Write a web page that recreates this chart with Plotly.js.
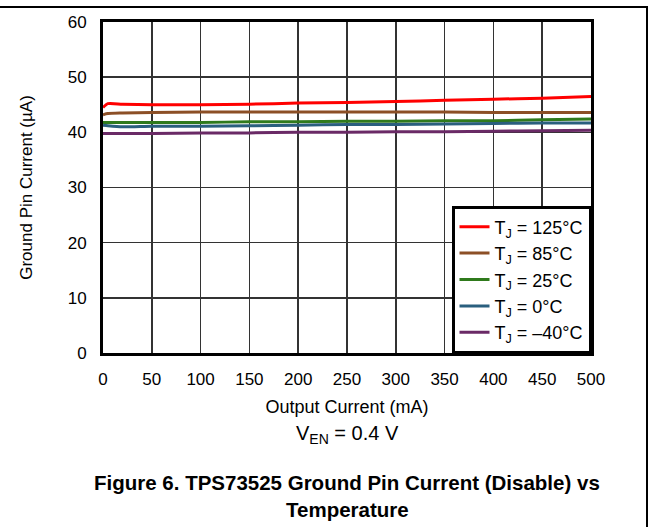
<!DOCTYPE html>
<html><head><meta charset="utf-8">
<script src="https://cdn.plot.ly/plotly-3.0.1.min.js"></script>
<style>
html,body{margin:0;padding:0;background:#fff;}
#wrap{position:relative;width:649px;height:527px;}
#plot{width:649px;height:527px;}
#frame{position:absolute;left:0;top:6px;width:646px;height:530px;border-top:2px solid #000;border-right:2px solid #000;pointer-events:none;}
</style></head>
<body>
<div id="wrap"><div id="plot"></div><div id="frame"></div></div>
<script>
const xCurrent = [0, 5, 20, 50, 100, 150, 200, 250, 300, 350, 400, 450, 500];
const t125 = [44.5, 45.2, 45.1, 45.0, 45.0, 45.1, 45.3, 45.4, 45.6, 45.8, 46.0, 46.2, 46.5];
const t85  = [43.2, 43.4, 43.5, 43.6, 43.7, 43.7, 43.7, 43.7, 43.7, 43.7, 43.6, 43.6, 43.6];
const t25  = [41.8, 41.8, 41.8, 41.8, 41.8, 41.9, 41.9, 42.0, 42.0, 42.1, 42.1, 42.3, 42.4];
const t0   = [41.3, 41.2, 41.0, 41.1, 41.1, 41.2, 41.3, 41.4, 41.4, 41.5, 41.6, 41.7, 41.7];
const tm40 = [39.8, 39.8, 39.8, 39.8, 39.9, 39.9, 40.0, 40.0, 40.1, 40.1, 40.2, 40.3, 40.4];
const seriesNames = ['T<sub>J</sub> = 125°C','T<sub>J</sub> = 85°C','T<sub>J</sub> = 25°C','T<sub>J</sub> = 0°C','T<sub>J</sub> = –40°C'];
const seriesColors = ['#ff0000','#8c4f26','#2f7a1c','#2a5f7e','#6a2a66'];
const seriesData = [t125, t85, t25, t0, tm40];
const xTicks = [0,50,100,150,200,250,300,350,400,450,500];
const yTicks = [0,10,20,30,40,50,60];

const traces = seriesData.map((d,i)=>({
  x: xCurrent, y: d, type:'scatter', mode:'lines', name: seriesNames[i],
  line:{color: seriesColors[i], width:3, shape:'spline', smoothing:0.6}
}));

const FONT = 'Liberation Sans, Arial, sans-serif';
const layout = {
  width:649, height:527,
  margin:{l:103, r:58, t:22, b:174},
  paper_bgcolor:'#fff', plot_bgcolor:'#fff',
  font:{family:FONT, color:'#000', size:17},
  showlegend:true,
  legend:{x:1, xanchor:'right', y:0, yanchor:'bottom', bordercolor:'#000', borderwidth:2.5,
    bgcolor:'#fff', font:{size:18, family:FONT}, itemwidth:30},
  xaxis:{range:[0,500], tickvals:xTicks, ticktext:xTicks.map(String), showgrid:true,
    gridcolor:'#333', gridwidth:1.5, zeroline:false, showline:true, linecolor:'#000', linewidth:3,
    mirror:true, ticks:'', ticklen:0, tickfont:{size:17}, ticklabelstandoff:9,
    title:{text:'Output Current (mA)', font:{size:18}, standoff:12}},
  yaxis:{range:[0,60], tickvals:yTicks, ticktext:yTicks.map(String), showgrid:true,
    gridcolor:'#333', gridwidth:1.5, zeroline:false, showline:true, linecolor:'#000', linewidth:3,
    mirror:true, ticks:'', ticklen:0, tickfont:{size:17}, ticklabelstandoff:10,
    title:{text:'Ground Pin Current (µA)', font:{size:17}, standoff:31}},
  annotations:[
    {xref:'paper', yref:'paper', x:0.5, y:-0.2477, xanchor:'center', yanchor:'middle', showarrow:false,
     text:'V<sub>EN</sub> = 0.4 V', font:{size:20}},
    {xref:'paper', yref:'paper', x:0.5, y:-0.3927, xanchor:'center', yanchor:'middle', showarrow:false,
     text:'<b>Figure 6. TPS73525 Ground Pin Current (Disable) vs</b>', font:{size:20.5}},
    {xref:'paper', yref:'paper', x:0.5, y:-0.4713, xanchor:'center', yanchor:'middle', showarrow:false,
     text:'<b>Temperature</b>', font:{size:20.5}}
  ]
};
Plotly.newPlot('plot', traces, layout, {staticPlot:true, displayModeBar:false});
</script>
</body></html>
